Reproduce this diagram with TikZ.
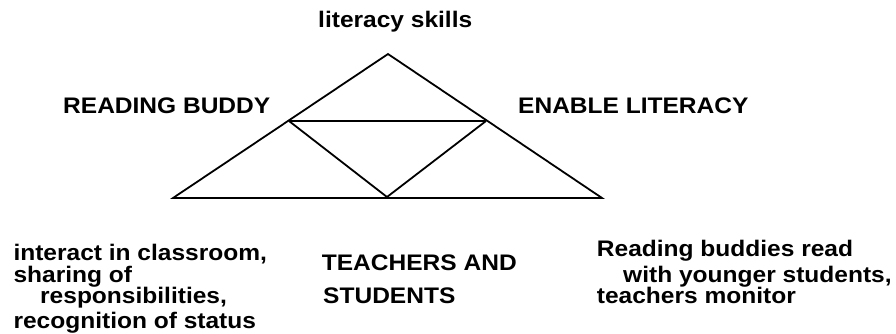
\documentclass[tikz,border=0pt]{standalone}
\usepackage{fontspec}
\setmainfont{Liberation Sans}[FakeStretch=1.09]
\begin{document}
\begin{tikzpicture}[x=1pt,y=-1pt,
  lbl/.style={anchor=base west,inner sep=0pt,font=\fontsize{22.5}{27}\selectfont\bfseries},
  edge/.style={line width=1.8pt,line join=miter}]
\useasboundingbox (0,0) rectangle (896,333);
% triangle corners and inner points
\coordinate (apex) at (388,54);
\coordinate (bl) at (173,198);
\coordinate (br) at (602,198);
\coordinate (ml) at (289,121);
\coordinate (mr) at (486,121);
\coordinate (bm) at (387,197);
\draw[edge] (apex) -- (br) -- (bl) -- cycle;
\draw[edge] (ml) -- (mr);
\draw[edge] (ml) -- (bm) -- (mr);
% labels
\node[lbl] (top) at (318,27.7) {literacy skills};
\node[lbl] (rb) at (63,113) {READING BUDDY};
\node[lbl] (el) at (518,113) {ENABLE LITERACY};
\node[lbl] (ta1) at (321.7,270) {TEACHERS AND};
\node[lbl] (ta2) at (323,303.3) {STUDENTS};
\node[lbl] (l1) at (13.3,260) {interact in classroom,};
\node[lbl] (l2) at (13.3,282) {sharing of};
\node[lbl] (l3) at (40,303.5) {responsibilities,};
\node[lbl] (l4) at (13.3,328) {recognition of status};
\node[lbl] (r1) at (596.7,256.7) {Reading buddies read};
\node[lbl] (r2) at (623,282.5) {with younger students,};
\node[lbl] (r3) at (596.7,303.5) {teachers monitor};
\end{tikzpicture}
\end{document}
